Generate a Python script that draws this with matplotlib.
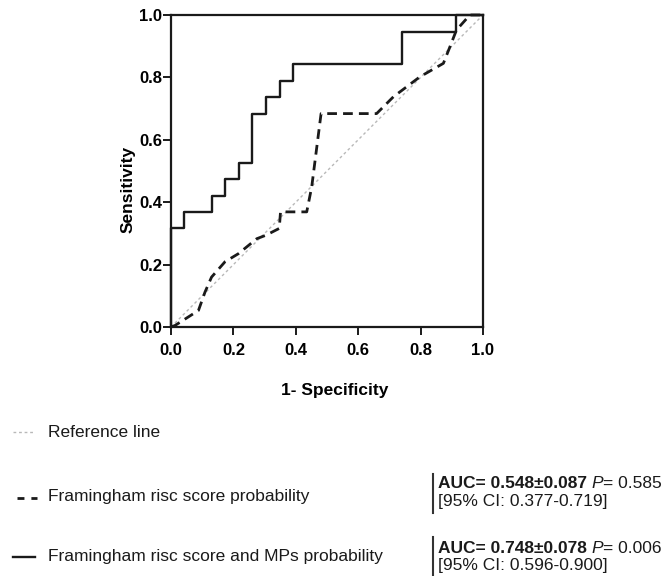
import matplotlib
matplotlib.use("Agg")
import matplotlib.pyplot as plt
from matplotlib.lines import Line2D

plt.rcParams['font.family'] = ['Liberation Sans', 'DejaVu Sans']

# ---- data ----
# Framingham risc score and MPs probability (ROC step vertices, steps-post)
fpr_mps = [0.0, 0.0, 0.043, 0.130, 0.174, 0.217, 0.261, 0.304, 0.348, 0.391, 0.739, 0.913, 1.0]
tpr_mps = [0.0, 0.316, 0.368, 0.421, 0.474, 0.526, 0.684, 0.737, 0.789, 0.842, 0.947, 1.0, 1.0]

# Framingham risc score probability (smoothed ROC polyline)
fpr_fram = [0.0, 0.013, 0.088, 0.109, 0.130, 0.173, 0.216, 0.275, 0.304, 0.347, 0.351, 0.435,
            0.451, 0.481, 0.659, 0.713, 0.798, 0.873, 0.894, 0.915, 0.958, 1.0]
tpr_fram = [0.0, 0.005, 0.053, 0.112, 0.160, 0.209, 0.235, 0.283, 0.294, 0.316, 0.369, 0.369,
            0.449, 0.684, 0.684, 0.738, 0.802, 0.845, 0.898, 0.952, 1.0, 1.0]

ref_line = [0.0, 1.0]

ticks = [0.0, 0.2, 0.4, 0.6, 0.8, 1.0]
tick_labels = ["0.0", "0.2", "0.4", "0.6", "0.8", "1.0"]

legend_labels = ["Reference line", "Framingham risc score probability",
                 "Framingham risc score and MPs probability"]
auc_bold = ["AUC= 0.548\u00b10.087", "AUC= 0.748\u00b10.078"]
p_values = ["= 0.585", "= 0.006"]
ci_texts = ["[95% CI: 0.377-0.719]", "[95% CI: 0.596-0.900]"]

W, H = 668, 576
fig = plt.figure(figsize=(W / 100, H / 100), dpi=100)

def fx(px):
    return px / W

def fy(py):
    return 1 - py / H

ax = fig.add_axes([fx(171), fy(327), fx(483) - fx(171), fy(15) - fy(327)])

ax.plot(ref_line, ref_line, color='#b8b8b8', lw=1.0, ls=(0, (2, 2)), zorder=1)
ax.plot(fpr_fram, tpr_fram, color='#1a1a1a', lw=2.0, ls=(0, (3.5, 2.2)), zorder=2, clip_on=False)
ax.plot(fpr_mps, tpr_mps, color='#1a1a1a', lw=1.7, drawstyle='steps-post', zorder=3, clip_on=False)

ax.set_xlim(0, 1)
ax.set_ylim(0, 1)
ax.set_xticks(ticks)
ax.set_yticks(ticks)
ax.set_xticklabels(tick_labels, fontsize=12, fontweight='bold')
ax.set_yticklabels(tick_labels, fontsize=12, fontweight='bold')
ax.tick_params(axis='both', direction='out', length=5.5, width=1.4, color='#1a1a1a')
ax.tick_params(axis='x', pad=6)
ax.tick_params(axis='y', pad=1)
for s in ax.spines.values():
    s.set_linewidth(1.6)
    s.set_color('#1a1a1a')

ax.set_xlabel("1- Specificity", fontsize=12.5, fontweight='bold')
ax.set_ylabel("Sensitivity", fontsize=12.5, fontweight='bold')
ax.xaxis.set_label_coords((335 - 171) / 312, (327 - 390) / 312)
ax.xaxis.label.set_verticalalignment('center')
ax.yaxis.set_label_coords((128 - 171) / 312, (327 - 189) / 312)
ax.yaxis.label.set_verticalalignment('center')

# ---- legend ----
styles = [dict(color='#b8b8b8', lw=1.0, ls=(0, (2, 2))),
          dict(color='#1a1a1a', lw=2.0, ls=(0, (2.5, 2.5))),
          dict(color='#1a1a1a', lw=1.7, ls='-')]
line_x = [(13, 33), (17, 37), (13, 35)]
line_y = [432, 498, 557]
text_base = [436.7, 500.7, 560.7]
for lab, st, (x0, x1), ly, tb in zip(legend_labels, styles, line_x, line_y, text_base):
    fig.add_artist(Line2D([fx(x0), fx(x1)], [fy(ly), fy(ly)], transform=fig.transFigure, **st))
    fig.text(fx(48), fy(tb), lab, fontsize=12.5, va='baseline', ha='left', color='#1a1a1a')

# ---- AUC blocks ----
renderer = fig.canvas.get_renderer()
bar_spans = [(474, 512.7), (536.7, 575)]
base1 = [488.3, 552.7]
base2 = [506, 570]
for i in range(2):
    y0, y1 = bar_spans[i]
    fig.add_artist(Line2D([fx(433), fx(433)], [fy(y0), fy(y1)], transform=fig.transFigure,
                          color='#333333', lw=1.5))
    t1 = fig.text(fx(438.3), fy(base1[i]), auc_bold[i], fontsize=12.5, fontweight='bold',
                  va='baseline', ha='left', color='#1a1a1a')
    bb = t1.get_window_extent(renderer)
    t2 = fig.text(bb.x1 / W + fx(4), fy(base1[i]), "P", fontsize=12.5, style='italic',
                  va='baseline', ha='left', color='#1a1a1a')
    bb2 = t2.get_window_extent(renderer)
    fig.text(bb2.x1 / W, fy(base1[i]), p_values[i], fontsize=12.5,
             va='baseline', ha='left', color='#1a1a1a')
    fig.text(fx(438.3), fy(base2[i]), ci_texts[i], fontsize=12.5,
             va='baseline', ha='left', color='#1a1a1a')

fig.savefig("out.png", dpi=100)
